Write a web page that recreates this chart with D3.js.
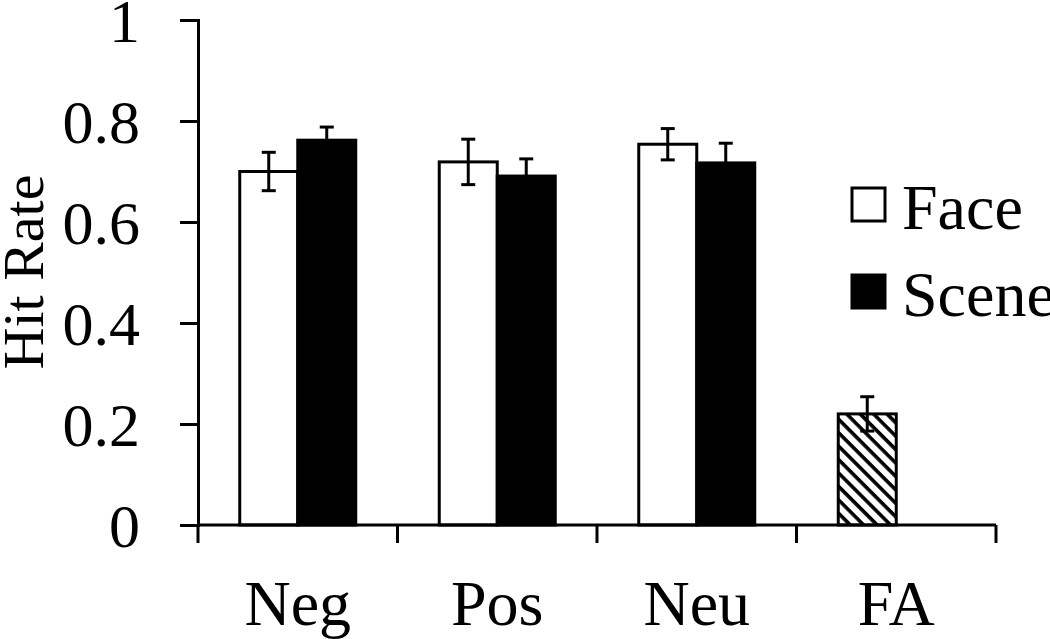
<!DOCTYPE html>
<html>
<head>
<meta charset="utf-8">
<script src="https://cdn.jsdelivr.net/npm/d3@7"></script>
<style>
  body { margin: 0; background: #fff; }
  text { font-family: "Liberation Serif", "Times New Roman", serif; fill: #000; }
</style>
</head>
<body>
<svg width="1050" height="639"></svg>
<script>
var svg = d3.select("svg");

var categories = ["Neg", "Pos", "Neu", "FA"];
var faceValues = [0.700, 0.719, 0.754];
var faceErr = [0.038, 0.045, 0.031];
var sceneValues = [0.762, 0.691, 0.717];
var sceneErr = [0.026, 0.034, 0.039];
var faValue = 0.220;
var faErr = 0.034;
var yTicks = [0, 0.2, 0.4, 0.6, 0.8, 1];
var yTickLabels = ["0", "0.2", "0.4", "0.6", "0.8", "1"];
var legendLabels = ["Face", "Scene"];

var x = d3.scaleBand().domain(categories).range([198, 996]).padding(0);
var y = d3.scaleLinear().domain([0, 1]).range([525, 20]);
var barW = 58;

// hatch for FA
var defs = svg.append("defs");
var pat = defs.append("pattern")
  .attr("id", "hatch")
  .attr("patternUnits", "userSpaceOnUse")
  .attr("width", 9.5).attr("height", 9.5)
  .attr("patternTransform", "rotate(-45)");
pat.append("rect").attr("width", 9.5).attr("height", 9.5).attr("fill", "#fff");
pat.append("line").attr("x1", 2).attr("y1", 0).attr("x2", 2).attr("y2", 9.5)
  .attr("stroke", "#000").attr("stroke-width", 3.6);

// bars
var bars = [];
categories.slice(0, 3).forEach(function(c, i) {
  bars.push({cat: c, side: -1, v: faceValues[i], e: faceErr[i], fill: "#fff"});
  bars.push({cat: c, side: 0, v: sceneValues[i], e: sceneErr[i], fill: "#000"});
});
bars.push({cat: "FA", side: -1, v: faValue, e: faErr, fill: "url(#hatch)"});

function barX(d) { return x(d.cat) + x.bandwidth() / 2 + d.side * barW; }

svg.selectAll(".bar").data(bars).enter().append("rect")
  .attr("class", "bar")
  .attr("x", barX)
  .attr("y", function(d) { return y(d.v); })
  .attr("width", barW)
  .attr("height", function(d) { return y(0) - y(d.v); })
  .attr("fill", function(d) { return d.fill; })
  .attr("stroke", "#000")
  .attr("stroke-width", 3);

// error bars
var eb = svg.selectAll(".err").data(bars).enter().append("g").attr("class", "err")
  .attr("stroke", "#000").attr("stroke-width", 3);
eb.append("line")
  .attr("x1", function(d) { return barX(d) + barW / 2; })
  .attr("x2", function(d) { return barX(d) + barW / 2; })
  .attr("y1", function(d) { return y(d.v - d.e); })
  .attr("y2", function(d) { return y(d.v + d.e); });
eb.selectAll(".cap").data(function(d) { return [d.v - d.e, d.v + d.e].map(function(v) { return {d: d, v: v}; }); })
  .enter().append("line")
  .attr("x1", function(p) { return barX(p.d) + barW / 2 - 7; })
  .attr("x2", function(p) { return barX(p.d) + barW / 2 + 7; })
  .attr("y1", function(p) { return y(p.v); })
  .attr("y2", function(p) { return y(p.v); });

// y axis
var yAxis = d3.axisLeft(y).tickValues(yTicks)
  .tickFormat(function(d, i) { return yTickLabels[i]; })
  .tickSize(18).tickPadding(40);
var yg = svg.append("g").attr("transform", "translate(198,0)").call(yAxis);
yg.select(".domain").attr("stroke-width", 3);
yg.selectAll(".tick line").attr("stroke-width", 3);
yg.selectAll(".tick text").style("font-size", "62px").attr("dy", "0.34em");

// x axis
var xEdges = categories.map(function(c) { return x(c); }).concat([x.range()[1]]);
svg.append("line").attr("x1", 198).attr("x2", 996).attr("y1", y(0)).attr("y2", y(0))
  .attr("stroke", "#000").attr("stroke-width", 3);
svg.selectAll(".xtick").data(xEdges).enter().append("line")
  .attr("x1", function(d) { return d; }).attr("x2", function(d) { return d; })
  .attr("y1", y(0)).attr("y2", y(0) + 18)
  .attr("stroke", "#000").attr("stroke-width", 3);
svg.selectAll(".xlab").data(categories).enter().append("text")
  .attr("x", function(c) { return x(c) + x.bandwidth() / 2; })
  .attr("y", 625)
  .attr("text-anchor", "middle")
  .style("font-size", "64px")
  .text(function(c) { return c; });

// y title
svg.append("text")
  .attr("transform", "translate(43,272) rotate(-90)")
  .attr("text-anchor", "middle")
  .style("font-size", "58px")
  .text("Hit Rate");

// legend
var leg = svg.selectAll(".leg").data(legendLabels).enter().append("g")
  .attr("transform", function(d, i) { return "translate(852," + (188 + i * 87) + ")"; });
leg.append("rect").attr("width", 33).attr("height", 33)
  .attr("fill", function(d, i) { return i === 0 ? "#fff" : "#000"; })
  .attr("stroke", "#000").attr("stroke-width", 3);
leg.append("text").attr("x", 50).attr("y", 41)
  .style("font-size", "64px")
  .text(function(d) { return d; });
</script>
</body>
</html>
